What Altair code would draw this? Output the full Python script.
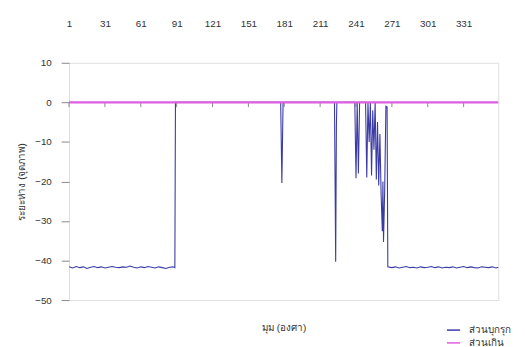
import altair as alt
import pandas as pd

# Blue series (angle in degrees, distance in pixels)
blue_angle = [1, 4, 7, 10, 13, 16, 19, 22, 25, 28, 31, 34, 37, 40, 43, 46, 49, 52, 55, 58,
              61, 64, 67, 70, 73, 76, 79, 82, 85, 88, 89.5, 90,
              178, 179, 180,
              223, 224, 224.6, 225,
              240, 241, 242, 243, 244,
              249, 250, 251, 252, 253, 254, 255, 256, 257, 258, 259, 260, 261, 262, 263, 263.5,
              264, 265, 266, 267, 267.6,
              271, 274, 277, 280, 283, 286, 289, 292, 295, 298, 301, 304, 307, 310, 313, 316,
              319, 322, 325, 328, 331, 334, 337, 340, 343, 346, 349, 352, 355, 358, 360]
blue_value = [-41.6, -41.9, -41.5, -41.8, -41.6, -42.0, -41.7, -41.5, -41.8, -41.6, -41.9, -41.7,
              -41.5, -41.7, -41.8, -41.6, -41.7, -41.4, -41.7, -41.9,
              -41.6, -41.8, -41.5, -41.7, -41.9, -41.6, -41.8, -42.0, -41.7, -41.6, -41.8, 0,
              0, -20.4, 0,
              0, -40.3, -6, 0,
              0, -19.2, 0, -18.0, 0,
              0, -19.0, 0, -10, 0, -18.5, -2, -12, 0, -19.5, -5, -21, -8, -23.4, -32.6, -20,
              -35.3, -22, -1.0, -1.2, -41.6,
              -41.8, -41.6, -41.9, -41.7, -41.5, -41.8, -41.7, -41.9, -41.6, -41.8, -41.7, -41.5,
              -41.8, -41.6, -41.9, -41.7,
              -41.8, -41.6, -41.9, -41.7, -41.5, -41.8, -41.6, -41.8, -41.9, -41.6, -41.7, -41.8,
              -41.6, -41.9, -41.7]

# Pink series (constant zero)
pink_angle = [1, 360]
pink_value = [0, 0]

series_names = ["ส่วนบุกรุก", "ส่วนเกิน"]
series_colors = ["#3b3ba6", "#e05ce0"]

x_labels = [1, 31, 61, 91, 121, 151, 181, 211, 241, 271, 301, 331]
y_ticks = [10, 0, -10, -20, -30, -40, -50]

rows = []
for i, (a, v) in enumerate(zip(blue_angle, blue_value)):
    rows.append({"angle": a, "value": v, "series": series_names[0], "i": i})
for i, (a, v) in enumerate(zip(pink_angle, pink_value)):
    rows.append({"angle": a, "value": v, "series": series_names[1], "i": i})
df = pd.DataFrame(rows)

tick_df = pd.DataFrame({"angle": x_labels, "y0": [0] * len(x_labels), "y1": [-1.2] * len(x_labels)})

FONT = "Liberation Sans"

xscale = alt.Scale(domain=[1, 360], nice=False, zero=False)
yscale = alt.Scale(domain=[-50, 10], nice=False)
color_scale = alt.Scale(domain=series_names, range=series_colors)

x_axis_top = alt.Axis(orient="top", values=x_labels, ticks=False, domain=False, grid=False,
                      labelPadding=35, labelFontSize=10, labelColor="#333", labelFont=FONT,
                      title=None, labelFlush=False, labelOverlap=False)
x_axis_bottom = alt.Axis(orient="bottom", labels=False, ticks=False, domain=False, grid=False,
                         title="มุม (องศา)", titleFontSize=10, titleFontWeight="normal",
                         titleColor="#333", titlePadding=23)
y_axis = alt.Axis(values=y_ticks, tickSize=8, tickColor="#888", domain=False, grid=False,
                  labelPadding=10, labelFontSize=10, labelColor="#333", labelFont=FONT,
                  title="ระยะห่าง (จุดภาพ)", titleFontSize=10, titleFontWeight="normal",
                  titleColor="#333", titlePadding=8)

legend = alt.Legend(orient="none", legendX=383, legendY=264, title=None,
                    symbolType="stroke", symbolSize=180, symbolStrokeWidth=1.5,
                    labelFontSize=10, labelColor="#333", rowPadding=-3, labelOffset=8,
                    labelLimit=200)

base = alt.Chart(df)

blue = base.transform_filter(alt.datum.series == series_names[0]).mark_line(strokeWidth=1.1).encode(
    x=alt.X("angle:Q", scale=xscale, axis=x_axis_top),
    y=alt.Y("value:Q", scale=yscale, axis=y_axis),
    color=alt.Color("series:N", scale=color_scale, legend=legend),
    order=alt.Order("i:Q"),
)
pink = base.transform_filter(alt.datum.series == series_names[1]).mark_line(strokeWidth=2.2).encode(
    x=alt.X("angle:Q", scale=xscale, axis=None),
    y=alt.Y("value:Q", scale=yscale),
    color=alt.Color("series:N", scale=color_scale, legend=legend),
    order=alt.Order("i:Q"),
)
ticks = alt.Chart(tick_df).mark_rule(color="#888", strokeWidth=1).encode(
    x=alt.X("angle:Q", scale=xscale, axis=x_axis_bottom),
    y=alt.Y("y0:Q", scale=yscale),
    y2="y1:Q",
)

chart = alt.layer(ticks, blue, pink).resolve_axis(x="independent").properties(
    width=436, height=241,
    autosize=alt.AutoSizeParams(type="none"),
    padding={"left": 62, "top": 53, "right": 19, "bottom": 45},
).configure_view(stroke="#888", strokeWidth=1).configure(font=FONT)

chart.save("out.html", embed_options={"renderer": "svg", "actions": False})
